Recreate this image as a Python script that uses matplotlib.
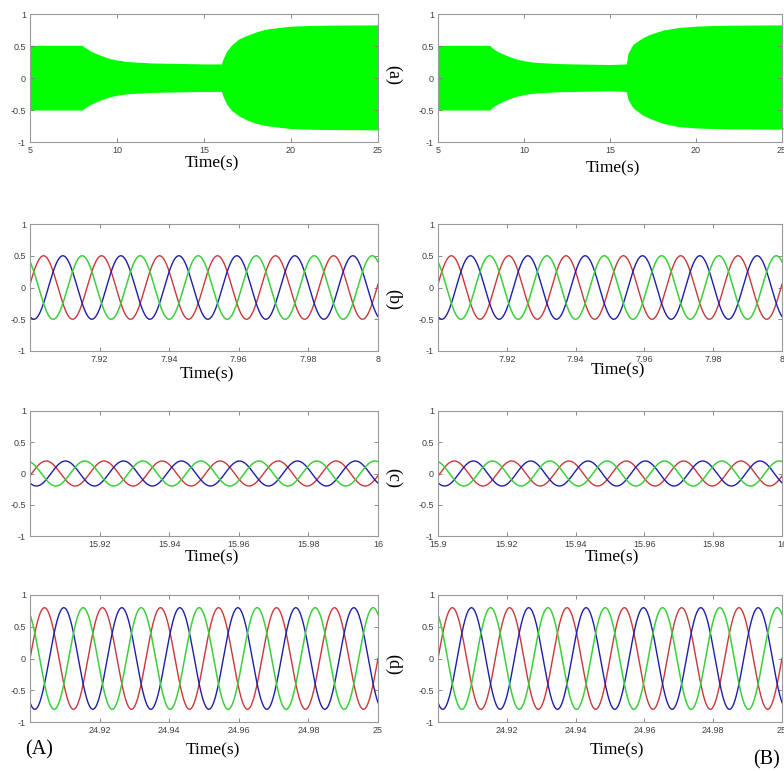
import numpy as np
import matplotlib
matplotlib.use("Agg")
import matplotlib.pyplot as plt

# ---- data ----
# (a) envelope of the green signal, column A and column B
env_t_A = [5, 8, 8.2, 8.5, 9, 9.5, 10, 10.5, 11, 12, 13, 14, 15, 16, 16.1, 16.3, 16.6,
           17, 17.5, 18, 18.5, 19, 20, 21, 22, 25]
env_up_A = [0.51, 0.51, 0.47, 0.42, 0.36, 0.31, 0.28, 0.26, 0.25, 0.235, 0.23, 0.225, 0.22,
            0.22, 0.30, 0.42, 0.52, 0.61, 0.67, 0.72, 0.76, 0.78, 0.81, 0.82, 0.825, 0.83]
env_lo_A = [-0.50, -0.50, -0.46, -0.41, -0.35, -0.30, -0.27, -0.25, -0.24, -0.225, -0.22,
            -0.215, -0.21, -0.21, -0.29, -0.41, -0.51, -0.59, -0.66, -0.71, -0.74, -0.76,
            -0.79, -0.80, -0.805, -0.81]

env_t_B = [5, 8, 8.2, 8.5, 9, 9.5, 10, 10.5, 11, 12, 13, 14, 15, 15.95, 16.05, 16.35,
           16.9, 17.3, 18.1, 19, 20, 21, 22, 25]
env_up_B = [0.51, 0.51, 0.46, 0.41, 0.35, 0.30, 0.27, 0.25, 0.24, 0.225, 0.22, 0.215, 0.21,
            0.22, 0.39, 0.53, 0.63, 0.68, 0.75, 0.79, 0.81, 0.82, 0.825, 0.83]
env_lo_B = [-0.50, -0.50, -0.45, -0.40, -0.34, -0.29, -0.26, -0.24, -0.23, -0.215, -0.21,
            -0.205, -0.20, -0.21, -0.34, -0.47, -0.58, -0.63, -0.71, -0.76, -0.78, -0.79,
            -0.795, -0.80]

# (b)-(d) three-phase windows: start time, amplitude, phase of red (deg)
win_start = [7.9, 15.9, 24.9]
win_amp = [0.5, 0.2, 0.8]
phase_A = [6, -10, 0]
phase_B = [6, -12, 0]
freq = 60.0

xt_a = [5, 10, 15, 20, 25]
xt_b = [7.92, 7.94, 7.96, 7.98, 8]
xt_c_A = [15.92, 15.94, 15.96, 15.98, 16]
xt_c_B = [15.9, 15.92, 15.94, 15.96, 15.98, 16]
xt_d = [24.92, 24.94, 24.96, 24.98, 25]
yt = [-1, -0.5, 0, 0.5, 1]
yt_lab = ['-1', '-0.5', '0', '0.5', '1']

RED, BLUE, GREEN = '#c8383a', '#1e1ea8', '#3ccf3c'

W, H = 784, 771
fig = plt.figure(figsize=(W / 100, H / 100), dpi=100)

def px_axes(x0, y_top, x1, y_bot):
    return fig.add_axes([x0 / W, 1 - y_bot / H, (x1 - x0) / W, (y_bot - y_top) / H])

def style(ax, xticks, xlabels):
    ax.set_ylim(-1, 1)
    ax.set_yticks(yt)
    ax.set_yticklabels(yt_lab)
    ax.set_xticks(xticks)
    ax.set_xticklabels(xlabels)
    ax.tick_params(direction='in', length=3, width=0.6, color='#777777',
                   labelsize=6.5, labelcolor='#404040', pad=3,
                   top=True, right=True)
    for lab in ax.get_xticklabels() + ax.get_yticklabels():
        lab.set_family('Liberation Sans')
    for sp in ax.spines.values():
        sp.set_color('#999999')
        sp.set_linewidth(0.8)

def fmt(v):
    s = ('%g' % v)
    return s

cols = [(30, 378), (438, 782)]
rows = [(14, 142), (224, 351), (411, 536), (595, 722)]

# row (a)
for (x0, x1), t_env, up, lo in zip(cols, [env_t_A, env_t_B], [env_up_A, env_up_B],
                                   [env_lo_A, env_lo_B]):
    ax = px_axes(x0, rows[0][0], x1, rows[0][1])
    ax.fill_between(t_env, lo, up, color='#00ff00', lw=0)
    ax.set_xlim(5, 25)
    style(ax, xt_a, [fmt(v) for v in xt_a])

# rows (b)-(d)
xt_rows = [[xt_b, xt_b], [xt_c_A, xt_c_B], [xt_d, xt_d]]
for r in range(3):
    t0 = win_start[r]
    t = np.linspace(t0, t0 + 0.1, 3000)
    for c, (x0, x1) in enumerate(cols):
        ax = px_axes(x0, rows[r + 1][0], x1, rows[r + 1][1])
        ph = np.deg2rad([phase_A, phase_B][c][r])
        w = 2 * np.pi * freq * (t - t0) + ph
        ax.plot(t, win_amp[r] * np.sin(w), color=RED, lw=1)
        ax.plot(t, win_amp[r] * np.sin(w - 2 * np.pi / 3), color=BLUE, lw=1)
        ax.plot(t, win_amp[r] * np.sin(w + 2 * np.pi / 3), color=GREEN, lw=1.1)
        ax.set_xlim(t0, t0 + 0.1)
        xt = xt_rows[r][c]
        style(ax, xt, [fmt(v) for v in xt])

# "Time(s)" labels
serif = 'Liberation Serif'
time_pos = [(212, 163), (613, 168), (207, 374), (618, 370),
            (212, 557), (612, 557), (213, 750), (617, 750)]
for x, y in time_pos:
    fig.text(x / W, 1 - y / H, 'Time(s)', family=serif, fontsize=12.5,
             ha='center', va='center')

# panel letters between the columns
for lab, y in zip(['(a)', '(b)', '(c)', '(d)'], [75, 300, 478, 665]):
    fig.text(393 / W, 1 - y / H, lab, family=serif, fontsize=13, rotation=-90,
             ha='center', va='center')

fig.text(39 / W, 1 - 750 / H, '(A)', family=serif, fontsize=14.5, ha='center', va='center')
fig.text(767 / W, 1 - 760 / H, '(B)', family=serif, fontsize=14.5, ha='center', va='center')

fig.savefig('out.png', dpi=100)
